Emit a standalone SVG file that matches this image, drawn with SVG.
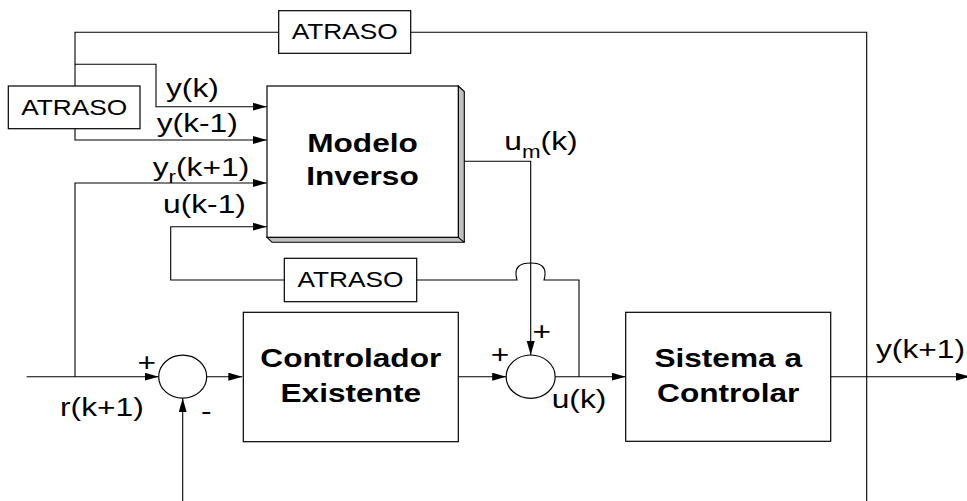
<svg xmlns="http://www.w3.org/2000/svg" width="967" height="501" viewBox="0 0 967 501">
<defs>
<style>
.ln{fill:none;stroke:#000;stroke-width:1.1}
.box{fill:#fff;stroke:#000;stroke-width:1.2}
.t{font-family:"Liberation Sans",Arial,sans-serif;fill:#000}
.lab{font-size:25.6px}
.atr{font-size:21.2px}
.b{font-size:25.5px;font-weight:bold}
.sub{font-size:18px}
</style>
<marker id="ar" markerUnits="userSpaceOnUse" markerWidth="15" markerHeight="9" refX="14" refY="4" orient="auto">
<path d="M0,0 L14,4 L0,8 z" fill="#000"/>
</marker>
</defs>
<rect width="967" height="501" fill="#fff"/>

<g id="connectors">
<path class="ln" d="M75,86 V32.3 H279"/>
<path class="ln" d="M411,32.3 H866.7 V501"/>
<path class="ln" d="M75,64.3 H156 V106.7 H266.7" marker-end="url(#ar)"/>
<path class="ln" d="M75,128.7 V140 H266.7" marker-end="url(#ar)"/>
<path class="ln" d="M26.7,376.7 H158.7" marker-end="url(#ar)"/>
<path class="ln" d="M75,376.7 V183 H266.7" marker-end="url(#ar)"/>
<path class="ln" d="M284.3,280 H170.7 V226.7 H266.7" marker-end="url(#ar)"/>
<path class="ln" d="M579,376.7 V280 H544 C548,266 540,263 530.7,263 C521,263 513,266 517,280 H416.7"/>
<path class="ln" d="M458.3,161.3 H530.7 V355" marker-end="url(#ar)"/>
<path class="ln" d="M206.7,376.7 H242.3" marker-end="url(#ar)"/>
<path class="ln" d="M182.7,501 V398.3" marker-end="url(#ar)"/>
<path class="ln" d="M458.3,376.7 H506.2" marker-end="url(#ar)"/>
<path class="ln" d="M555.2,376.7 H625.7" marker-end="url(#ar)"/>
<path class="ln" d="M830.7,376.7 H970" marker-end="url(#ar)"/>
</g>

<g id="atraso_top">
<rect class="box" x="278.7" y="10.7" width="132" height="42.6"/>
<text class="t atr" text-anchor="middle" transform="translate(344.7,39.3) scale(1.24,1)">ATRASO</text>
</g>
<g id="atraso_left">
<rect class="box" x="8.3" y="86" width="131.7" height="42.7"/>
<text class="t atr" text-anchor="middle" transform="translate(74.2,115) scale(1.24,1)">ATRASO</text>
</g>
<g id="atraso_mid">
<rect class="box" x="284.3" y="258.3" width="132.4" height="43.4"/>
<text class="t atr" text-anchor="middle" transform="translate(350.5,286.5) scale(1.24,1)">ATRASO</text>
</g>

<g id="modelo_inverso">
<polygon points="458.3,86 464.3,91.5 464.3,242.3 272,242.3 267,237.3 458.3,237.3" fill="#c0c0c0" stroke="#000" stroke-width="1.1"/>
<line x1="458.3" y1="237.3" x2="464.3" y2="242.3" stroke="#000" stroke-width="1.1"/>
<rect class="box" x="267" y="86" width="191.3" height="151.3"/>
<text class="t b" text-anchor="middle" transform="translate(362.5,151.7) scale(1.24,1)">Modelo</text>
<text class="t b" text-anchor="middle" transform="translate(362.5,185) scale(1.24,1)">Inverso</text>
</g>

<g id="controlador">
<rect class="box" x="243.3" y="312.3" width="215" height="129.4"/>
<text class="t b" text-anchor="middle" transform="translate(350.8,366.7) scale(1.24,1)">Controlador</text>
<text class="t b" text-anchor="middle" transform="translate(350.8,401.7) scale(1.24,1)">Existente</text>
</g>

<g id="sistema">
<rect class="box" x="625.7" y="312.3" width="205" height="129"/>
<text class="t b" text-anchor="middle" transform="translate(728.2,366.7) scale(1.24,1)">Sistema a</text>
<text class="t b" text-anchor="middle" transform="translate(728.2,401.7) scale(1.24,1)">Controlar</text>
</g>

<g id="soma1">
<ellipse class="box" cx="182.7" cy="376.7" rx="24" ry="21.5"/>
<text class="t lab" text-anchor="middle" transform="translate(146.7,371.3) scale(1.24,1)">+</text>
<text class="t lab" text-anchor="middle" transform="translate(206.2,419.5) scale(1.24,1)">-</text>
</g>

<g id="soma2">
<ellipse class="box" cx="530.7" cy="376.7" rx="24.5" ry="21.7"/>
<text class="t lab" text-anchor="middle" transform="translate(541.7,340.3) scale(1.24,1)">+</text>
<text class="t lab" text-anchor="middle" transform="translate(500,363) scale(1.24,1)">+</text>
</g>

<g id="labels">
<text class="t lab" transform="translate(166,96.7) scale(1.24,1)">y(k)</text>
<text class="t lab" transform="translate(156.7,131.5) scale(1.24,1)">y(k-1)</text>
<text class="t lab" transform="translate(152.7,176) scale(1.24,1)">y<tspan class="sub" dy="7">r</tspan><tspan dy="-7">(k+1)</tspan></text>
<text class="t lab" transform="translate(163,213) scale(1.24,1)">u(k-1)</text>
<text class="t lab" transform="translate(504.3,150) scale(1.24,1)">u<tspan class="sub" dy="7.7">m</tspan><tspan dy="-7.7">(k)</tspan></text>
<text class="t lab" transform="translate(60,416.3) scale(1.24,1)">r(k+1)</text>
<text class="t lab" transform="translate(551.7,408) scale(1.24,1)">u(k)</text>
<text class="t lab" transform="translate(876,358) scale(1.24,1)">y(k+1)</text>
</g>
</svg>
